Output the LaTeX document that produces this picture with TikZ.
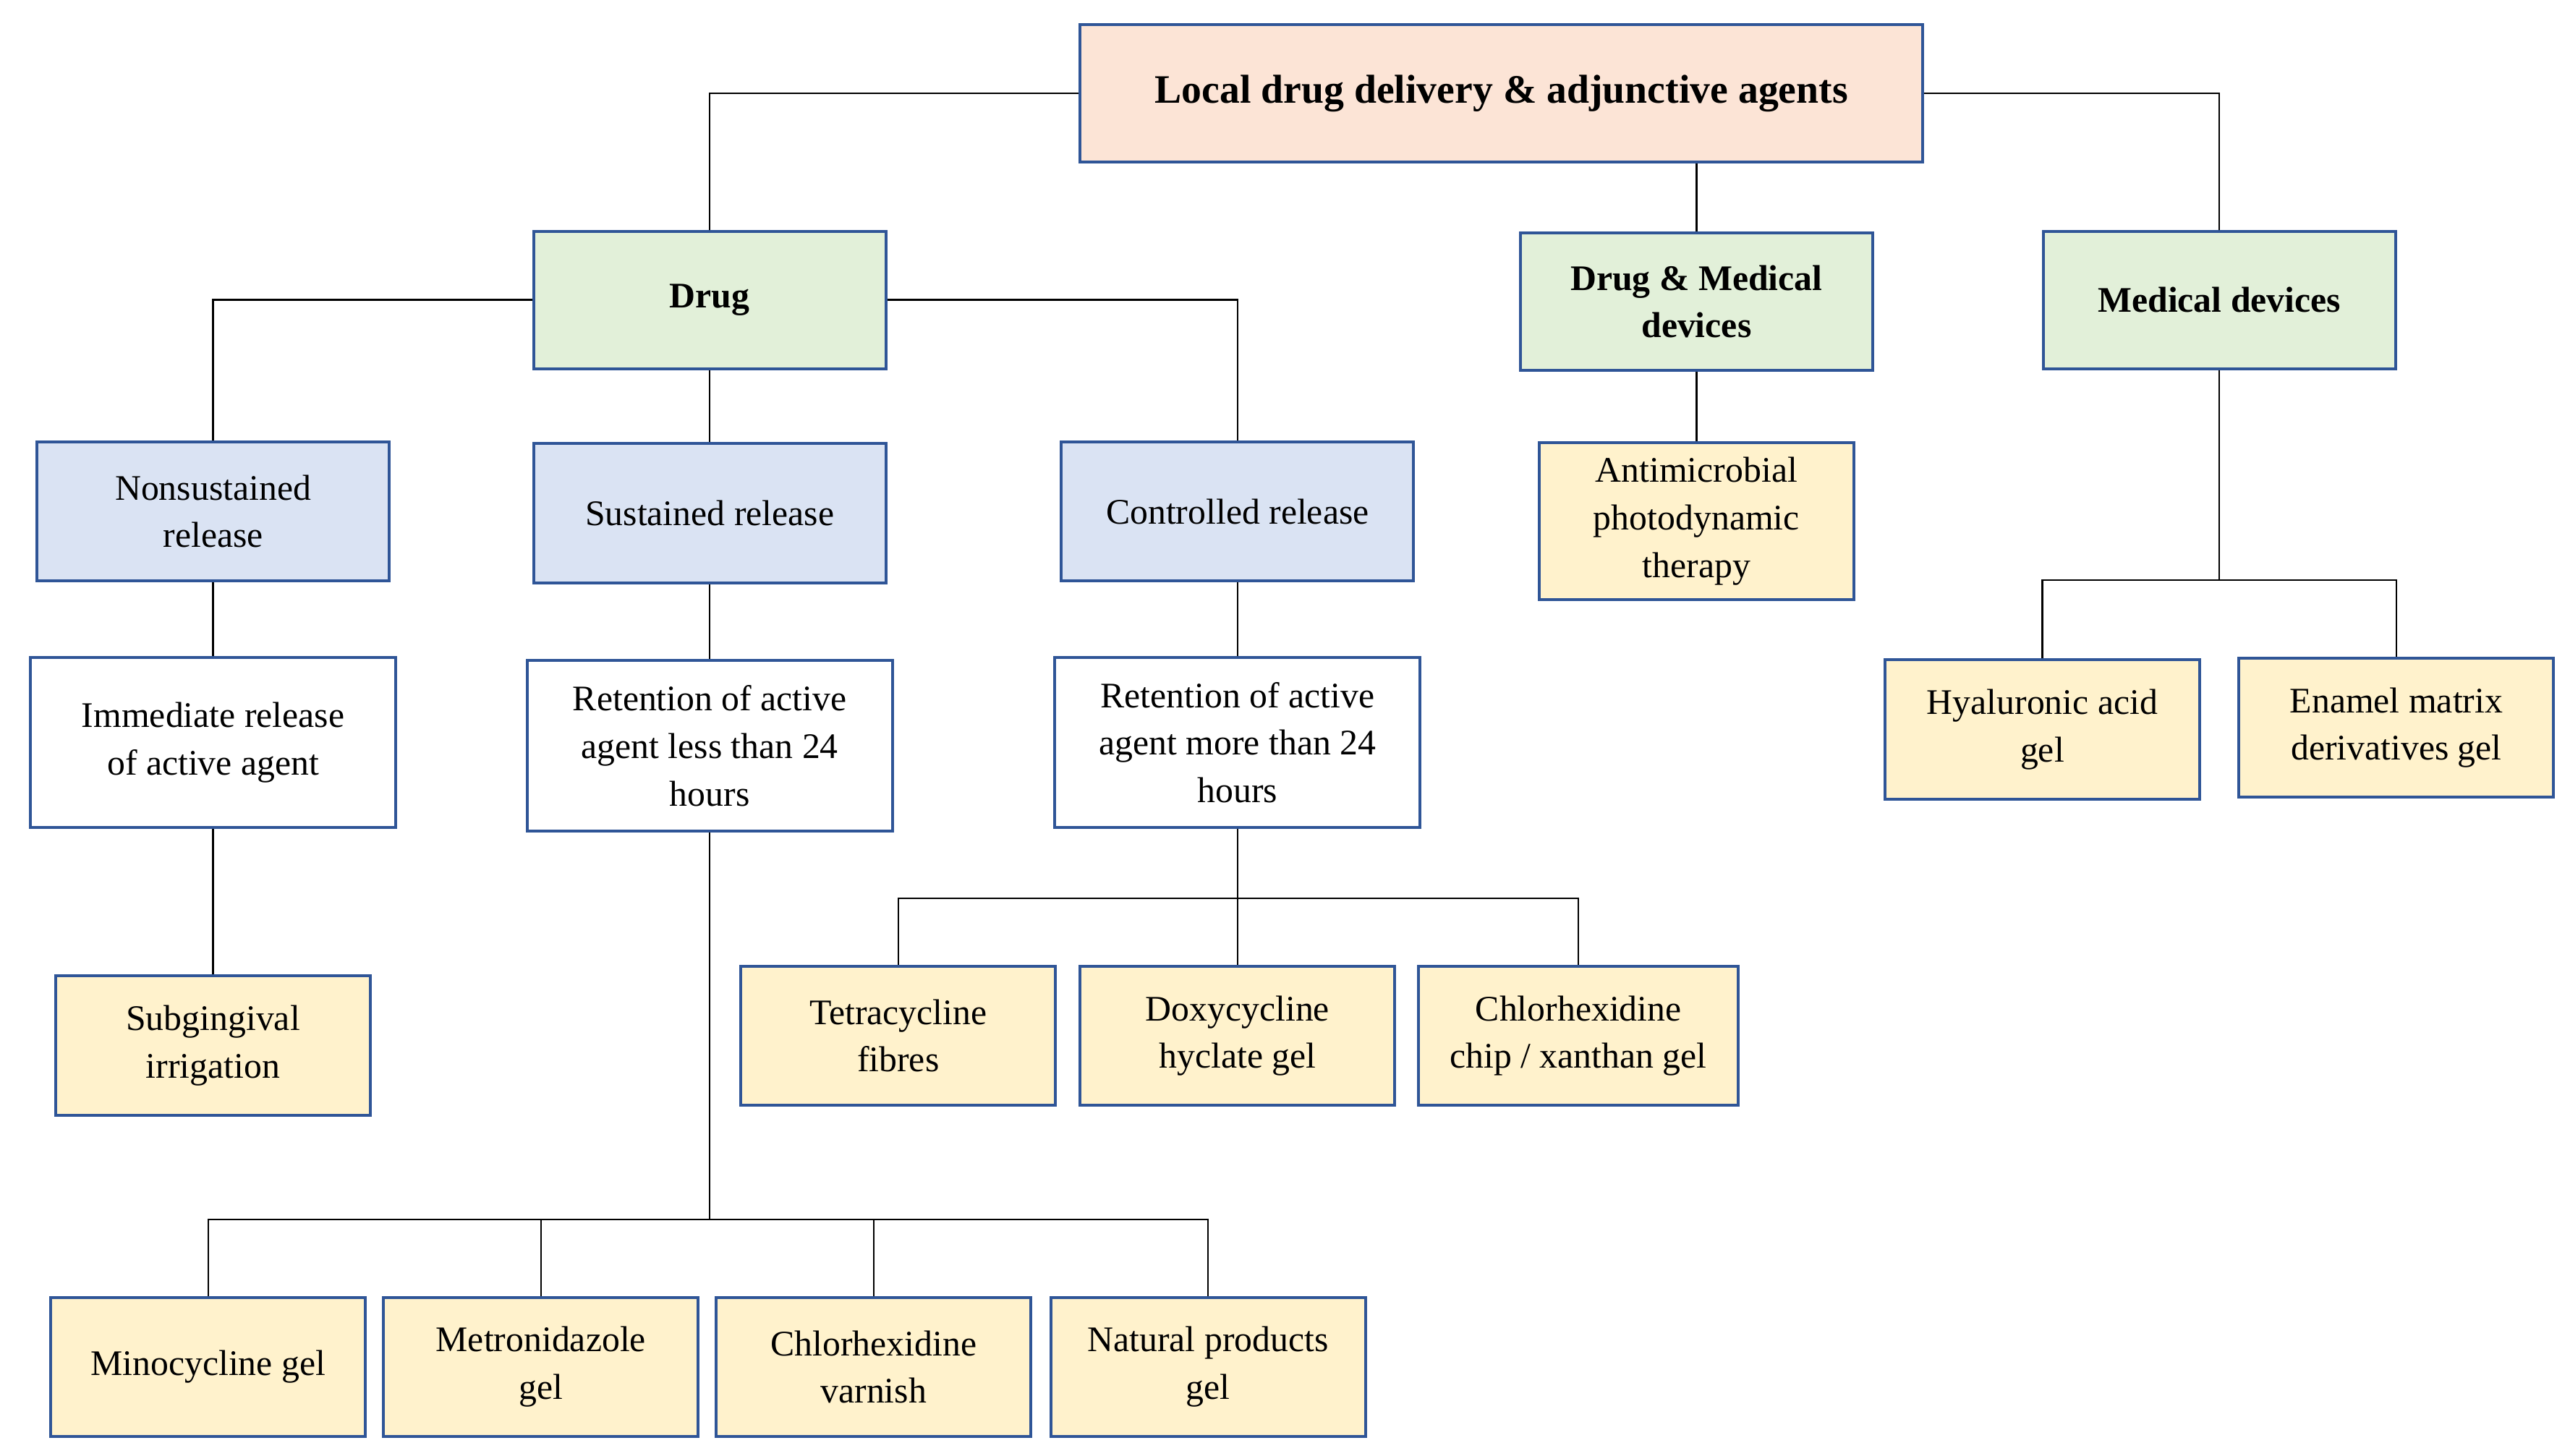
\documentclass[tikz,border=0pt]{standalone}
\usepackage{fontspec}
\setmainfont{Liberation Serif}
\usetikzlibrary{positioning}
\definecolor{edgeblue}{HTML}{2F5597}
\definecolor{peach}{HTML}{FCE4D6}
\definecolor{mint}{HTML}{E2F0D9}
\definecolor{sky}{HTML}{DAE3F3}
\definecolor{cream}{HTML}{FFF2CC}

\begin{document}
\begin{tikzpicture}[
        x=0.02cm, y=-0.02cm,
        every node/.style={draw=edgeblue, line width=1pt, align=center, inner sep=2pt,
            font=\fontsize{12.5}{16.5}\selectfont},
        every path/.style={line width=0.6pt},
        box/.style={minimum width=#1*0.02cm},
        root/.style={fill=peach, minimum height=1.68cm, font=\fontsize{14}{17}\selectfont\bfseries},
        group/.style={fill=mint, minimum width=4.3cm, minimum height=1.68cm, font=\fontsize{12.5}{16.5}\selectfont\bfseries},
        kind/.style={fill=sky, minimum width=4.3cm, minimum height=1.7cm},
        span/.style={fill=white, minimum width=4.46cm, minimum height=2.08cm},
        item/.style={fill=cream, minimum width=3.84cm, minimum height=1.7cm}
    ]

    \useasboundingbox (0,0) rectangle (1560,888);

    % Nodes
    \node (top)[root, box=514] at (916,57) {Local drug delivery \& adjunctive agents};

    \node (drug)[group] at (433,183) {Drug};
    \node (both)[group] at (1035,184) {Drug \& Medical\\devices};
    \node (devices)[group] at (1354,183) {Medical devices};

    \node (nonsus)[kind] at (130,312) {Nonsustained\\release};
    \node (sus)[kind] at (433,313) {Sustained release};
    \node (ctrl)[kind] at (755,312) {Controlled release};
    \node (apdt)[item, minimum height=1.92cm] at (1035,318) {Antimicrobial\\photodynamic\\therapy};

    \node (immed)[span] at (130,453) {Immediate release\\of active agent};
    \node (less)[span] at (433,455) {Retention of active\\agent less than 24\\hours};
    \node (more)[span] at (755,453) {Retention of active\\agent more than 24\\hours};

    \node (hyal)[item] at (1246,445) {Hyaluronic acid\\gel};
    \node (emd)[item] at (1462,444) {Enamel matrix\\derivatives gel};

    \node (irrig)[item] at (130,638) {Subgingival\\irrigation};
    \node (tetra)[item] at (548,632) {Tetracycline\\fibres};
    \node (doxy)[item] at (755,632) {Doxycycline\\hyclate gel};
    \node (chip)[item, minimum width=3.9cm] at (963,632) {Chlorhexidine\\chip / xanthan gel};

    \node (mino)[item] at (127,834) {Minocycline gel};
    \node (metro)[item] at (330,834) {Metronidazole\\gel};
    \node (varnish)[item] at (533,834) {Chlorhexidine\\varnish};
    \node (natural)[item] at (737,834) {Natural products\\gel};

    % Edges
    \draw (top.west) -| (drug.north);
    \draw (top.east) -| (devices.north);
    \draw (top.south -| both.north) -- (both.north);
    \draw (drug.west) -| (nonsus.north);
    \draw (drug.east) -| (ctrl.north);
    \draw (drug) -- (sus);
    \draw (both) -- (apdt);
    \draw (nonsus) -- (immed);
    \draw (immed) -- (irrig);
    \draw (sus) -- (less);
    \draw (ctrl) -- (more);

    \coordinate (split1) at (1354,354);
    \draw (devices.south) -- (split1);
    \draw (split1) -| (hyal.north);
    \draw (split1) -| (emd.north);

    \coordinate (split2) at (755,548);
    \draw (more.south) -- (split2) -- (doxy.north);
    \draw (split2) -| (tetra.north);
    \draw (split2) -| (chip.north);

    \coordinate (split3) at (433,744);
    \draw (less.south) -- (split3);
    \foreach \n in {mino,metro,varnish,natural}
        \draw (split3) -| (\n.north);

\end{tikzpicture}
\end{document}
